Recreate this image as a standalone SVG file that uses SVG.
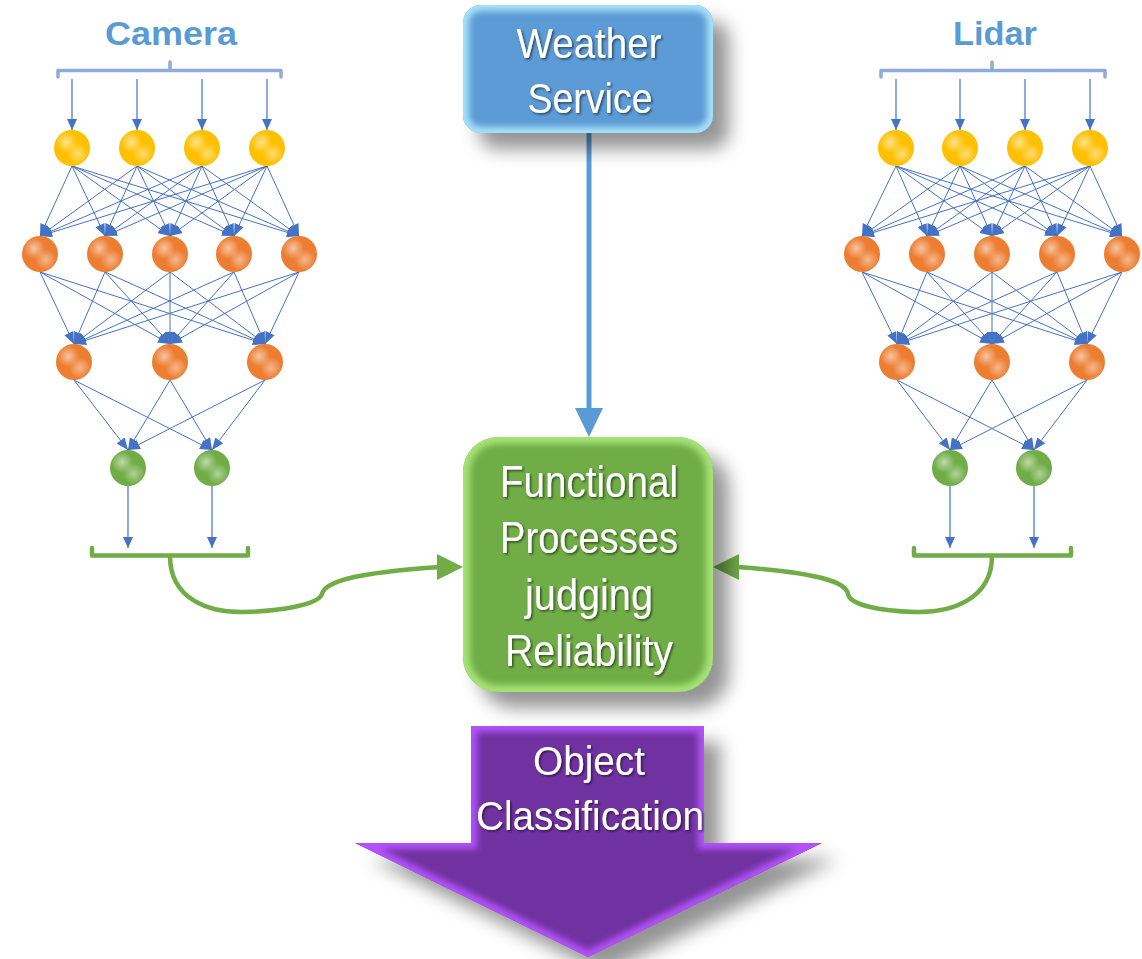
<svg xmlns="http://www.w3.org/2000/svg" xmlns:xlink="http://www.w3.org/1999/xlink" width="1142" height="959" viewBox="0 0 1142 959">
<style>
.e{stroke:#4472C4;stroke-width:1;fill:none;marker-end:url(#ah)}
.io{stroke:#4472C4;stroke-width:1.2;fill:none;marker-end:url(#ah2)}
.br{stroke:#8FAADC;stroke-width:3.5;fill:none;stroke-linecap:round;stroke-linejoin:round}
.gb{stroke:#70AD47;stroke-width:4.5;fill:none;stroke-linecap:round;stroke-linejoin:round}
.title{font-family:"Liberation Sans",Arial,sans-serif;font-weight:bold;font-size:33px;fill:#5B9BD5;text-anchor:middle}
.lbl{font-family:"Liberation Sans",Arial,sans-serif;fill:#fff;text-anchor:middle;filter:url(#ts)}
</style>
<defs>
<marker id="ah" markerUnits="userSpaceOnUse" markerWidth="12" markerHeight="10" refX="12" refY="5" orient="auto"><path d="M0,0L12,5L0,10z" fill="#4472C4"/></marker>
<marker id="ah2" markerUnits="userSpaceOnUse" markerWidth="11" markerHeight="10" refX="11" refY="5" orient="auto"><path d="M0,0L11,5L0,10z" fill="#4472C4"/></marker>
<radialGradient id="hlA" cx="0.34" cy="0.34" r="0.3"><stop offset="0" stop-color="#fff" stop-opacity="0.55"/><stop offset="1" stop-color="#fff" stop-opacity="0"/></radialGradient>
<radialGradient id="hlB" cx="0.66" cy="0.66" r="0.3"><stop offset="0" stop-color="#fff" stop-opacity="0.45"/><stop offset="1" stop-color="#fff" stop-opacity="0"/></radialGradient>
<g id="sphY"><circle r="18" fill="#FFC000"/><circle r="18" fill="url(#hlA)"/><circle r="18" fill="url(#hlB)"/></g>
<g id="sphO"><circle r="18" fill="#ED7D31"/><circle r="18" fill="url(#hlA)"/><circle r="18" fill="url(#hlB)"/></g>
<g id="sphG"><circle r="18" fill="#70AD47"/><circle r="18" fill="url(#hlA)"/><circle r="18" fill="url(#hlB)"/></g>
<filter id="shadow" x="-20%" y="-20%" width="160%" height="160%">
<feGaussianBlur in="SourceAlpha" stdDeviation="9"/>
<feOffset dx="16" dy="16" result="b"/>
<feFlood flood-color="#000" flood-opacity="0.42"/>
<feComposite in2="b" operator="in"/>
<feMerge><feMergeNode/><feMergeNode in="SourceGraphic"/></feMerge>
</filter>
<filter id="blur" x="-10%" y="-10%" width="120%" height="120%"><feGaussianBlur stdDeviation="3"/></filter>
<filter id="ts" x="-10%" y="-20%" width="120%" height="150%"><feDropShadow dx="1.5" dy="1.5" stdDeviation="1" flood-color="#000" flood-opacity="0.55"/></filter>
<clipPath id="cW"><rect x="463" y="5" width="250" height="128" rx="18"/></clipPath>
<clipPath id="cF"><rect x="463" y="437" width="250" height="255" rx="35"/></clipPath>
<clipPath id="cA"><polygon points="471,726 704,726 704,843 822,843 588,957 355,843 471,843"/></clipPath>
</defs>
<rect width="1142" height="959" fill="#fff"/>

<g id="connectors">
<!-- camera inputs -->
<line class="io" x1="72" y1="79" x2="72" y2="130"/>
<line class="io" x1="137" y1="79" x2="137" y2="130"/>
<line class="io" x1="202" y1="79" x2="202" y2="130"/>
<line class="io" x1="267" y1="79" x2="267" y2="130"/>
<!-- camera Y->O1 -->
<line class="e" x1="72" y1="166" x2="40" y2="236"/><line class="e" x1="72" y1="166" x2="105" y2="236"/><line class="e" x1="72" y1="166" x2="170" y2="236"/><line class="e" x1="72" y1="166" x2="234" y2="236"/><line class="e" x1="72" y1="166" x2="299" y2="236"/>
<line class="e" x1="137" y1="166" x2="40" y2="236"/><line class="e" x1="137" y1="166" x2="105" y2="236"/><line class="e" x1="137" y1="166" x2="170" y2="236"/><line class="e" x1="137" y1="166" x2="234" y2="236"/><line class="e" x1="137" y1="166" x2="299" y2="236"/>
<line class="e" x1="202" y1="166" x2="40" y2="236"/><line class="e" x1="202" y1="166" x2="105" y2="236"/><line class="e" x1="202" y1="166" x2="170" y2="236"/><line class="e" x1="202" y1="166" x2="234" y2="236"/><line class="e" x1="202" y1="166" x2="299" y2="236"/>
<line class="e" x1="267" y1="166" x2="40" y2="236"/><line class="e" x1="267" y1="166" x2="105" y2="236"/><line class="e" x1="267" y1="166" x2="170" y2="236"/><line class="e" x1="267" y1="166" x2="234" y2="236"/><line class="e" x1="267" y1="166" x2="299" y2="236"/>
<!-- camera O1->O2 -->
<line class="e" x1="40" y1="272" x2="74" y2="344"/><line class="e" x1="40" y1="272" x2="170" y2="344"/><line class="e" x1="40" y1="272" x2="265" y2="344"/>
<line class="e" x1="105" y1="272" x2="74" y2="344"/><line class="e" x1="105" y1="272" x2="170" y2="344"/><line class="e" x1="105" y1="272" x2="265" y2="344"/>
<line class="e" x1="170" y1="272" x2="74" y2="344"/><line class="e" x1="170" y1="272" x2="170" y2="344"/><line class="e" x1="170" y1="272" x2="265" y2="344"/>
<line class="e" x1="234" y1="272" x2="74" y2="344"/><line class="e" x1="234" y1="272" x2="170" y2="344"/><line class="e" x1="234" y1="272" x2="265" y2="344"/>
<line class="e" x1="299" y1="272" x2="74" y2="344"/><line class="e" x1="299" y1="272" x2="170" y2="344"/><line class="e" x1="299" y1="272" x2="265" y2="344"/>
<!-- camera O2->G -->
<line class="e" x1="74" y1="380" x2="128" y2="450"/><line class="e" x1="74" y1="380" x2="212" y2="450"/>
<line class="e" x1="170" y1="380" x2="128" y2="450"/><line class="e" x1="170" y1="380" x2="212" y2="450"/>
<line class="e" x1="265" y1="380" x2="128" y2="450"/><line class="e" x1="265" y1="380" x2="212" y2="450"/>
<!-- camera outputs -->
<line class="io" x1="128" y1="486" x2="128" y2="548"/>
<line class="io" x1="212" y1="486" x2="212" y2="548"/>

<!-- lidar inputs -->
<line class="io" x1="896" y1="79" x2="896" y2="130"/>
<line class="io" x1="960" y1="79" x2="960" y2="130"/>
<line class="io" x1="1025" y1="79" x2="1025" y2="130"/>
<line class="io" x1="1090" y1="79" x2="1090" y2="130"/>
<!-- lidar Y->O1 -->
<line class="e" x1="896" y1="166" x2="862" y2="236"/><line class="e" x1="896" y1="166" x2="927" y2="236"/><line class="e" x1="896" y1="166" x2="992" y2="236"/><line class="e" x1="896" y1="166" x2="1057" y2="236"/><line class="e" x1="896" y1="166" x2="1122" y2="236"/>
<line class="e" x1="960" y1="166" x2="862" y2="236"/><line class="e" x1="960" y1="166" x2="927" y2="236"/><line class="e" x1="960" y1="166" x2="992" y2="236"/><line class="e" x1="960" y1="166" x2="1057" y2="236"/><line class="e" x1="960" y1="166" x2="1122" y2="236"/>
<line class="e" x1="1025" y1="166" x2="862" y2="236"/><line class="e" x1="1025" y1="166" x2="927" y2="236"/><line class="e" x1="1025" y1="166" x2="992" y2="236"/><line class="e" x1="1025" y1="166" x2="1057" y2="236"/><line class="e" x1="1025" y1="166" x2="1122" y2="236"/>
<line class="e" x1="1090" y1="166" x2="862" y2="236"/><line class="e" x1="1090" y1="166" x2="927" y2="236"/><line class="e" x1="1090" y1="166" x2="992" y2="236"/><line class="e" x1="1090" y1="166" x2="1057" y2="236"/><line class="e" x1="1090" y1="166" x2="1122" y2="236"/>
<!-- lidar O1->O2 -->
<line class="e" x1="862" y1="272" x2="897" y2="344"/><line class="e" x1="862" y1="272" x2="992" y2="344"/><line class="e" x1="862" y1="272" x2="1087" y2="344"/>
<line class="e" x1="927" y1="272" x2="897" y2="344"/><line class="e" x1="927" y1="272" x2="992" y2="344"/><line class="e" x1="927" y1="272" x2="1087" y2="344"/>
<line class="e" x1="992" y1="272" x2="897" y2="344"/><line class="e" x1="992" y1="272" x2="992" y2="344"/><line class="e" x1="992" y1="272" x2="1087" y2="344"/>
<line class="e" x1="1057" y1="272" x2="897" y2="344"/><line class="e" x1="1057" y1="272" x2="992" y2="344"/><line class="e" x1="1057" y1="272" x2="1087" y2="344"/>
<line class="e" x1="1122" y1="272" x2="897" y2="344"/><line class="e" x1="1122" y1="272" x2="992" y2="344"/><line class="e" x1="1122" y1="272" x2="1087" y2="344"/>
<!-- lidar O2->G -->
<line class="e" x1="897" y1="380" x2="950" y2="450"/><line class="e" x1="897" y1="380" x2="1034" y2="450"/>
<line class="e" x1="992" y1="380" x2="950" y2="450"/><line class="e" x1="992" y1="380" x2="1034" y2="450"/>
<line class="e" x1="1087" y1="380" x2="950" y2="450"/><line class="e" x1="1087" y1="380" x2="1034" y2="450"/>
<!-- lidar outputs -->
<line class="io" x1="950" y1="486" x2="950" y2="548"/>
<line class="io" x1="1034" y1="486" x2="1034" y2="548"/>

<!-- weather -> functional -->
<line x1="589" y1="133" x2="589" y2="410" stroke="#5B9BD5" stroke-width="5"/>
<polygon points="575,408 603,408 589,437" fill="#5B9BD5"/>

<!-- camera output bracket + curve -->
<path class="gb" d="M92,548V555.5H248V548"/>
<path class="gb" d="M170,556C170,600 210,613 245,612C280,611 318,605 322,594C325,582 352,573 440,567"/>
<polygon points="437,554 463,567 437,580" fill="#70AD47"/>
<!-- lidar output bracket + curve -->
<path class="gb" d="M914,548V555.5H1071V548"/>
<path class="gb" d="M992,556C992,600 950,613 915,612C880,611 850,605 848,594C846,582 820,573 738,567"/>
<polygon points="739,554 713,567 739,580" fill="#70AD47"/>
</g>

<g id="camera-title"><text class="title" x="171" y="45" textLength="132" lengthAdjust="spacingAndGlyphs">Camera</text></g>
<g id="camera-bracket"><path class="br" d="M58,77V70.5H281V77M170,70.5V62"/></g>
<g id="lidar-title"><text class="title" x="995" y="45" textLength="84" lengthAdjust="spacingAndGlyphs">Lidar</text></g>
<g id="lidar-bracket"><path class="br" d="M881,77V70.5H1105V77M992,70.5V62"/></g>

<g id="cam-y1"><use href="#sphY" x="72" y="148"/></g>
<g id="cam-y2"><use href="#sphY" x="137" y="148"/></g>
<g id="cam-y3"><use href="#sphY" x="202" y="148"/></g>
<g id="cam-y4"><use href="#sphY" x="267" y="148"/></g>
<g id="cam-h1-1"><use href="#sphO" x="40" y="254"/></g>
<g id="cam-h1-2"><use href="#sphO" x="105" y="254"/></g>
<g id="cam-h1-3"><use href="#sphO" x="170" y="254"/></g>
<g id="cam-h1-4"><use href="#sphO" x="234" y="254"/></g>
<g id="cam-h1-5"><use href="#sphO" x="299" y="254"/></g>
<g id="cam-h2-1"><use href="#sphO" x="74" y="362"/></g>
<g id="cam-h2-2"><use href="#sphO" x="170" y="362"/></g>
<g id="cam-h2-3"><use href="#sphO" x="265" y="362"/></g>
<g id="cam-o1"><use href="#sphG" x="128" y="468"/></g>
<g id="cam-o2"><use href="#sphG" x="212" y="468"/></g>

<g id="lid-y1"><use href="#sphY" x="896" y="148"/></g>
<g id="lid-y2"><use href="#sphY" x="960" y="148"/></g>
<g id="lid-y3"><use href="#sphY" x="1025" y="148"/></g>
<g id="lid-y4"><use href="#sphY" x="1090" y="148"/></g>
<g id="lid-h1-1"><use href="#sphO" x="862" y="254"/></g>
<g id="lid-h1-2"><use href="#sphO" x="927" y="254"/></g>
<g id="lid-h1-3"><use href="#sphO" x="992" y="254"/></g>
<g id="lid-h1-4"><use href="#sphO" x="1057" y="254"/></g>
<g id="lid-h1-5"><use href="#sphO" x="1122" y="254"/></g>
<g id="lid-h2-1"><use href="#sphO" x="897" y="362"/></g>
<g id="lid-h2-2"><use href="#sphO" x="992" y="362"/></g>
<g id="lid-h2-3"><use href="#sphO" x="1087" y="362"/></g>
<g id="lid-o1"><use href="#sphG" x="950" y="468"/></g>
<g id="lid-o2"><use href="#sphG" x="1034" y="468"/></g>

<g id="weather">
<rect x="463" y="5" width="250" height="128" rx="18" fill="#5B9BD5" filter="url(#shadow)"/>
<rect x="463" y="5" width="250" height="128" rx="18" fill="none" stroke="#A8E2FA" stroke-width="12" clip-path="url(#cW)" filter="url(#blur)"/>
<text class="lbl" x="589" y="58" font-size="42" textLength="145" lengthAdjust="spacingAndGlyphs">Weather</text>
<text class="lbl" x="590" y="113" font-size="42" textLength="125" lengthAdjust="spacingAndGlyphs">Service</text>
</g>

<g id="functional">
<rect x="463" y="437" width="250" height="255" rx="35" fill="#70AD47" filter="url(#shadow)"/>
<rect x="463" y="437" width="250" height="255" rx="35" fill="none" stroke="#A6E274" stroke-width="14" clip-path="url(#cF)" filter="url(#blur)"/>
<text class="lbl" x="589" y="497" font-size="44" textLength="178" lengthAdjust="spacingAndGlyphs">Functional</text>
<text class="lbl" x="589" y="553" font-size="44" textLength="178" lengthAdjust="spacingAndGlyphs">Processes</text>
<text class="lbl" x="589" y="610" font-size="44" textLength="128" lengthAdjust="spacingAndGlyphs">judging</text>
<text class="lbl" x="589" y="666" font-size="44" textLength="168" lengthAdjust="spacingAndGlyphs">Reliability</text>
</g>

<g id="classification">
<polygon points="471,726 704,726 704,843 822,843 588,957 355,843 471,843" fill="#7030A0" filter="url(#shadow)"/>
<polygon points="471,726 704,726 704,843 822,843 588,957 355,843 471,843" fill="none" stroke="#B252FA" stroke-width="12" stroke-linejoin="miter" clip-path="url(#cA)" filter="url(#blur)"/>
<text class="lbl" x="589" y="775" font-size="40" textLength="112" lengthAdjust="spacingAndGlyphs">Object</text>
<text class="lbl" x="590" y="830" font-size="40" textLength="228" lengthAdjust="spacingAndGlyphs">Classification</text>
</g>
</svg>
